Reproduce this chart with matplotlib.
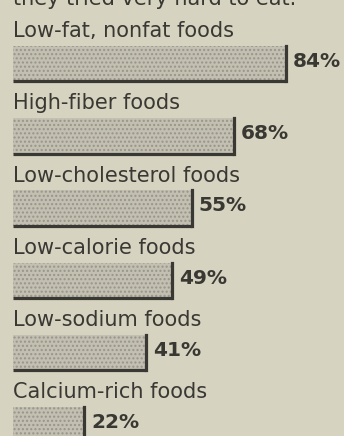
import matplotlib
matplotlib.use("Agg")
import matplotlib.pyplot as plt

categories = ["Low-fat, nonfat foods", "High-fiber foods", "Low-cholesterol foods",
              "Low-calorie foods", "Low-sodium foods", "Calcium-rich foods"]
values = [84, 68, 55, 49, 41, 22]
value_labels = ["84%", "68%", "55%", "49%", "41%", "22%"]
intro = "they tried very hard to eat."

BG = "#d6d3c1"
INK = "#393832"
plt.rcParams["font.family"] = ["DejaVu Sans"]
plt.rcParams["hatch.linewidth"] = 1.0

fig = plt.figure(figsize=(3.44, 4.36), dpi=100, facecolor=BG)
ax = fig.add_axes([0, 0, 1, 1], facecolor=BG)
ax.set_xlim(-4.0, 101.85)
ax.set_ylim(5.152, -0.878)
ax.axis("off")

h = 0.49
for i, (cat, v, lab) in enumerate(zip(categories, values, value_labels)):
    # halftone-like fill: light grey face with dotted hatch (edge colour drives hatch)
    ax.barh(i, v, height=h, left=0, color="#c3c0b2", hatch="....",
            edgecolor="#97948a", lw=0)
    top, bot = i - h / 2, i + h / 2
    ax.plot([0, v], [bot, bot], color=INK, lw=2.3, solid_capstyle="butt")
    ax.plot([v, v], [top, bot], color=INK, lw=2.3, solid_capstyle="projecting")
    ax.text(0, i - 0.367, cat, fontsize=15, color=INK, va="baseline", ha="left")
    ax.text(v + 2.1, i - 0.03, lab, fontsize=14.5, fontweight="bold", color=INK,
            va="center", ha="left")

# intro line, mostly cut off by the top edge as in the source
ax.text(0, -0.815, intro, fontsize=15, color=INK, va="baseline", ha="left")

fig.savefig("out.png", dpi=100, facecolor=BG)
